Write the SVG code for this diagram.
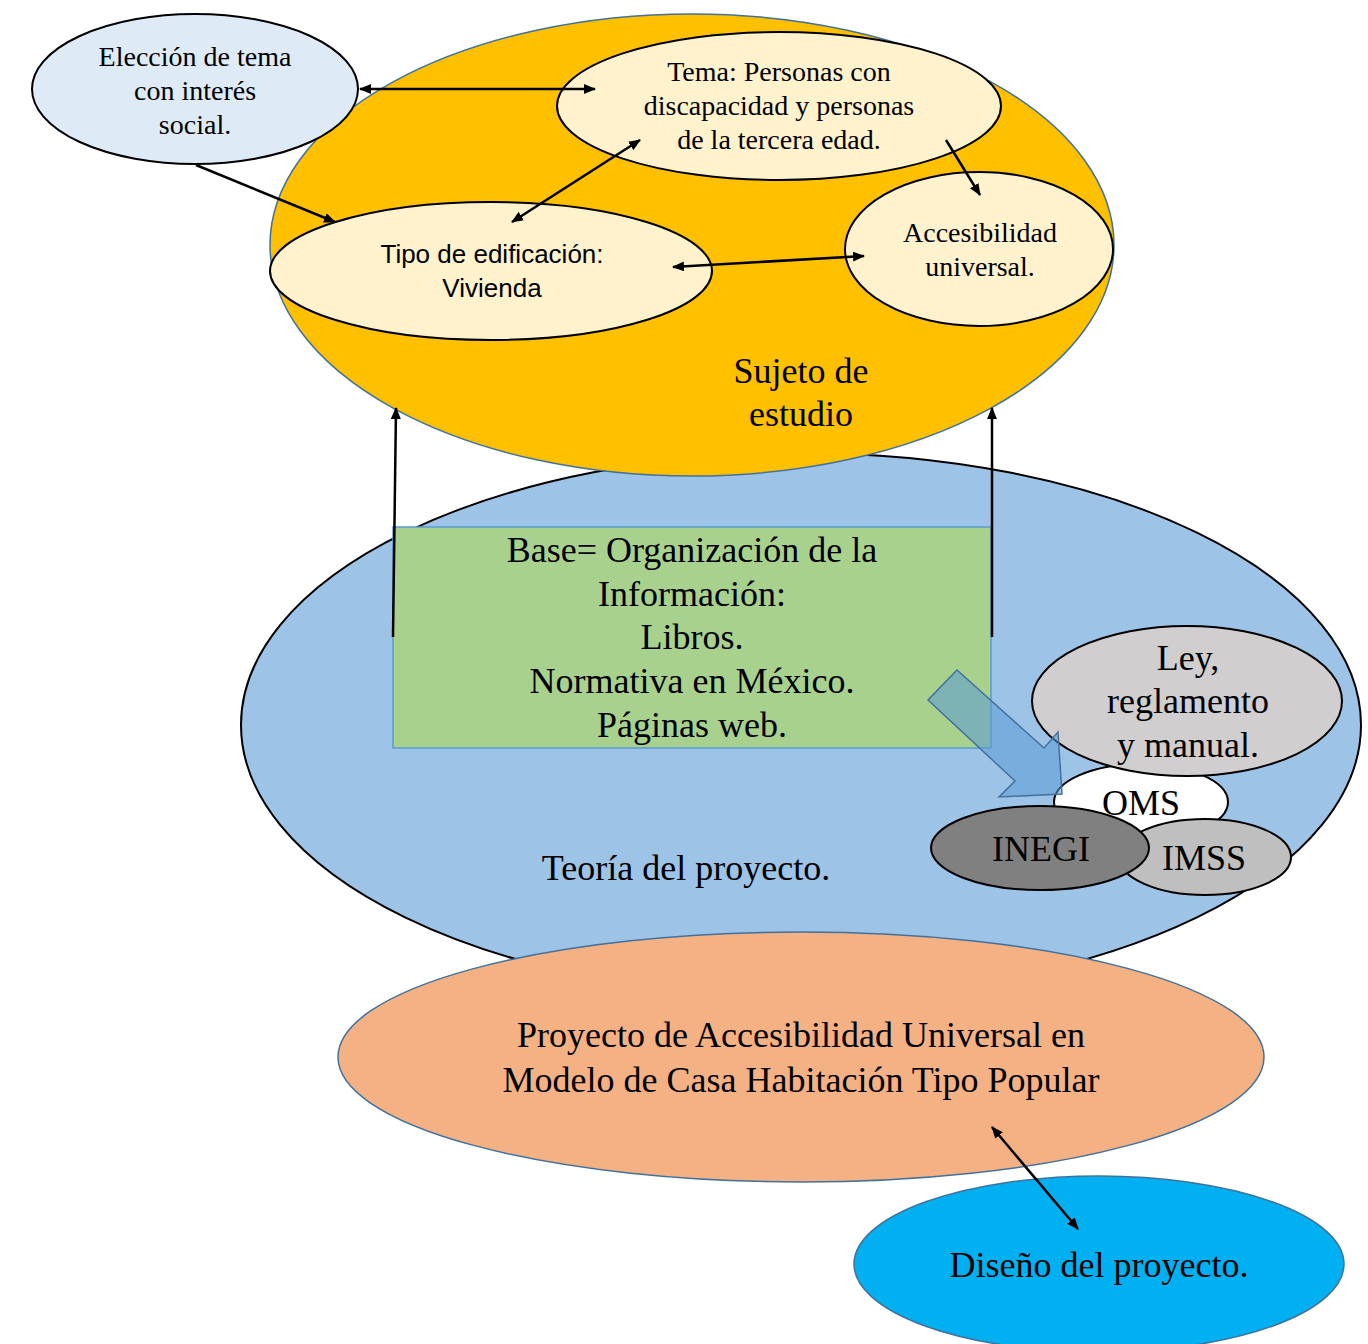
<svg xmlns="http://www.w3.org/2000/svg" width="1368" height="1344" viewBox="0 0 1368 1344">
<style>
.serif{font-family:"Liberation Serif","Times New Roman",serif;fill:#000;text-anchor:middle}
.sans{font-family:"Liberation Sans",Arial,sans-serif;fill:#000;text-anchor:middle}
.s28{font-size:28px}
.s36{font-size:36px}
.inner{stroke:#000;stroke-width:2}
.conn{stroke:#000;stroke-width:2.5;fill:none}
</style>
<defs>
<marker id="ah" viewBox="0 0 12 10" refX="11" refY="5" markerWidth="12" markerHeight="10" markerUnits="userSpaceOnUse" orient="auto-start-reverse">
<path d="M0,0 L12,5 L0,10 z" fill="#000"/>
</marker>
</defs>
<rect width="1368" height="1344" fill="#fff"/>
<g id="teoria">
<ellipse cx="801" cy="725" rx="560" ry="272" fill="#9DC3E6" stroke="#000" stroke-width="2"/>
<text class="serif s36" x="686" y="880">Teoría del proyecto.</text>
</g>
<g id="sujeto">
<ellipse cx="692" cy="245" rx="422" ry="231" fill="#FFC000" stroke="#41719C" stroke-width="1.5"/>
<text class="serif s36" x="801" y="383">Sujeto de</text>
<text class="serif s36" x="801" y="426">estudio</text>
</g>
<g id="eleccion">
<ellipse cx="195" cy="89" rx="163" ry="75" fill="#DEEBF7" class="inner"/>
<text class="serif s28" x="195" y="66">Elección de tema</text>
<text class="serif s28" x="195" y="100">con interés</text>
<text class="serif s28" x="195" y="134">social.</text>
</g>
<g id="tema">
<ellipse cx="779" cy="106" rx="222" ry="74" fill="#FFF2CC" class="inner"/>
<text class="serif s28" x="779" y="81">Tema: Personas con</text>
<text class="serif s28" x="779" y="115">discapacidad y personas</text>
<text class="serif s28" x="779" y="149">de la tercera edad.</text>
</g>
<g id="tipo">
<ellipse cx="491" cy="271" rx="221" ry="69" fill="#FFF2CC" class="inner"/>
<text class="sans" font-size="26" x="492" y="263">Tipo de edificación:</text>
<text class="sans" font-size="26" x="492" y="297">Vivienda</text>
</g>
<g id="accesibilidad">
<ellipse cx="979" cy="249" rx="134" ry="77" fill="#FFF2CC" class="inner"/>
<text class="serif s28" x="980" y="242">Accesibilidad</text>
<text class="serif s28" x="980" y="276">universal.</text>
</g>
<g id="base">
<rect x="393" y="527" width="598" height="221" fill="#A9D18E" stroke="#5B9BD5" stroke-width="1.5"/>
<text class="serif s36" x="692" y="562">Base= Organización de la</text>
<text class="serif s36" x="692" y="606">Información:</text>
<text class="serif s36" x="692" y="649">Libros.</text>
<text class="serif s36" x="692" y="693">Normativa en México.</text>
<text class="serif s36" x="692" y="737">Páginas web.</text>
</g>
<g id="oms">
<ellipse cx="1141" cy="802" rx="87" ry="38" fill="#FFFFFF" class="inner"/>
<text class="serif s36" x="1141" y="815">OMS</text>
</g>
<g id="ley">
<ellipse cx="1187" cy="701" rx="155" ry="75" fill="#D0CECE" class="inner"/>
<text class="serif s36" x="1188" y="670">Ley,</text>
<text class="serif s36" x="1188" y="713">reglamento</text>
<text class="serif s36" x="1188" y="757">y manual.</text>
</g>
<g id="imss">
<ellipse cx="1205" cy="857" rx="86" ry="38" fill="#BFBFBF" class="inner"/>
<text class="serif s36" x="1204" y="870">IMSS</text>
</g>
<g id="inegi">
<ellipse cx="1040" cy="848" rx="109" ry="42" fill="#808080" class="inner"/>
<text class="serif s36" x="1041" y="861">INEGI</text>
</g>
<g id="proyecto">
<ellipse cx="801" cy="1057" rx="463" ry="125" fill="#F4B183" stroke="#41719C" stroke-width="1.5"/>
<text class="serif s36" x="801" y="1047">Proyecto de Accesibilidad Universal en</text>
<text class="serif s36" x="801" y="1092">Modelo de Casa Habitación Tipo Popular</text>
</g>
<g id="diseno">
<ellipse cx="1099" cy="1264" rx="245" ry="88" fill="#00B0F0" stroke="#41719C" stroke-width="1.5"/>
<text class="serif s36" x="1099" y="1277">Diseño del proyecto.</text>
</g>
<g id="connectors">
<line class="conn" x1="360" y1="89" x2="595" y2="89" marker-start="url(#ah)" marker-end="url(#ah)"/>
<line class="conn" x1="196" y1="165" x2="335" y2="222" marker-end="url(#ah)"/>
<line class="conn" x1="640" y1="140" x2="512" y2="222" marker-start="url(#ah)" marker-end="url(#ah)"/>
<line class="conn" x1="946" y1="140" x2="980" y2="195" marker-end="url(#ah)"/>
<line class="conn" x1="673" y1="267" x2="864" y2="256" marker-start="url(#ah)" marker-end="url(#ah)"/>
<line class="conn" x1="393" y1="637" x2="396" y2="408" marker-end="url(#ah)"/>
<line class="conn" x1="992" y1="637" x2="992" y2="408" marker-end="url(#ah)"/>
<line class="conn" x1="992" y1="1127" x2="1078" y2="1229" marker-start="url(#ah)" marker-end="url(#ah)"/>
<polygon points="957,670 1044,748 1058,732 1062,794 999,797 1015,781 928,700" fill="#5B9BD5" fill-opacity="0.55" stroke="#41719C" stroke-width="1.5"/>
</g>
</svg>
